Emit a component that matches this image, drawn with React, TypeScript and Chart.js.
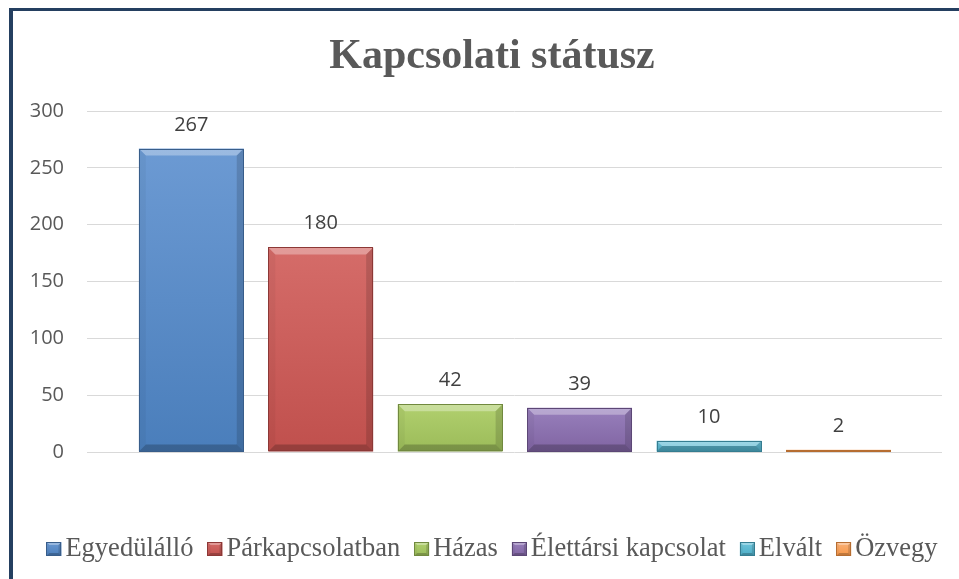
import React, { useEffect, useRef } from "react";
import { Chart, registerables } from "chart.js";

Chart.register(...registerables);

const TITLE = "Kapcsolati státusz";
const categories = ["Egyedülálló", "Párkapcsolatban", "Házas", "Élettársi kapcsolat", "Elvált", "Özvegy"];
const counts = [267, 180, 42, 39, 10, 2];
const yTicks = [0, 50, 100, 150, 200, 250, 300];

const baseColors = ["#4A7EBB", "#C0504D", "#9BBB59", "#8064A2", "#4BACC6", "#F79646"];
const lightColors = ["#6C9AD3", "#D56C69", "#B1D06E", "#9880BC", "#72C6DC", "#F9B27A"];
const edgeColors = ["#385D8A", "#8C3836", "#71893F", "#5C4776", "#357D91", "#B66D31"];

const PAD = { left: 0, right: 17, top: 111, bottom: 127 };
const CENTER_X = 492;
const SANS = "'Open Sans', 'Noto Sans', sans-serif";
const SERIF = "'Liberation Serif', 'Times New Roman', serif";

function bevel(ctx: CanvasRenderingContext2D, l: number, t: number, r: number, b: number, size: number) {
  const h = b - t;
  const w = r - l;
  const s = Math.max(0, Math.min(size, h / 2, w / 2));
  const poly = (pts: number[][], fill: string) => {
    ctx.beginPath();
    ctx.moveTo(pts[0][0], pts[0][1]);
    for (let k = 1; k < pts.length; k++) ctx.lineTo(pts[k][0], pts[k][1]);
    ctx.closePath();
    ctx.fillStyle = fill;
    ctx.fill();
  };
  poly([[l, t], [r, t], [r - s, t + s], [l + s, t + s]], "rgba(255,255,255,0.32)");
  poly([[l, t], [l + s, t + s], [l + s, b - s], [l, b]], "rgba(0,0,0,0.04)");
  poly([[r, t], [r, b], [r - s, b - s], [r - s, t + s]], "rgba(0,0,0,0.14)");
  poly([[l, b], [l + s, b - s], [r - s, b - s], [r, b]], "rgba(0,0,0,0.22)");
}

const barDecor = {
  id: "barDecor",
  afterDatasetsDraw(chart: any) {
    const ctx: CanvasRenderingContext2D = chart.ctx;
    const meta = chart.getDatasetMeta(0);
    ctx.save();
    meta.data.forEach((el: any, i: number) => {
      const { x, y, base, width } = el.getProps(["x", "y", "base", "width"], true);
      const l = x - width / 2;
      const r = x + width / 2;
      bevel(ctx, l, y, r, base, 7);
      ctx.strokeStyle = edgeColors[i];
      ctx.lineWidth = 1;
      ctx.strokeRect(Math.round(l) + 0.5, Math.round(y) + 0.5, Math.round(r - l) - 1, Math.max(0, Math.round(base - y) - 1));
      ctx.fillStyle = "#404040";
      ctx.font = `20px ${SANS}`;
      ctx.textAlign = "center";
      ctx.textBaseline = "alphabetic";
      ctx.fillText(String(counts[i]), x, y - 18);
    });
    ctx.restore();
  },
};

const titleAndLegend = {
  id: "titleAndLegend",
  afterDraw(chart: any) {
    const ctx: CanvasRenderingContext2D = chart.ctx;
    ctx.save();
    // title
    ctx.font = `bold 42px ${SERIF}`;
    ctx.fillStyle = "#595959";
    ctx.textAlign = "center";
    ctx.textBaseline = "alphabetic";
    ctx.fillText(TITLE, CENTER_X, 68);

    // legend
    ctx.font = `26.5px ${SERIF}`;
    const box = 15;
    const gap = 4;
    const spacing = 14;
    const widths = categories.map((c) => ctx.measureText(c).width);
    const total = widths.reduce((a, w) => a + box + gap + w, 0) + spacing * (categories.length - 1);
    let x = CENTER_X - total / 2;
    const boxTop = 542;
    const baseline = 556;
    categories.forEach((c, i) => {
      const g = ctx.createLinearGradient(0, boxTop, 0, boxTop + 14);
      g.addColorStop(0, lightColors[i]);
      g.addColorStop(1, baseColors[i]);
      ctx.fillStyle = g;
      ctx.fillRect(x, boxTop, box, 14);
      bevel(ctx, x, boxTop, x + box, boxTop + 14, 3);
      ctx.strokeStyle = edgeColors[i];
      ctx.lineWidth = 1;
      ctx.strokeRect(Math.round(x) + 0.5, boxTop + 0.5, box - 1, 13);
      ctx.fillStyle = "#595959";
      ctx.textAlign = "left";
      ctx.textBaseline = "alphabetic";
      ctx.fillText(c, x + box + gap, baseline);
      x += box + gap + widths[i] + spacing;
    });
    ctx.restore();
  },
};

export default function App() {
  const canvasRef = useRef<HTMLCanvasElement | null>(null);

  useEffect(() => {
    if (!canvasRef.current) return;
    const chart = new Chart(canvasRef.current, {
      type: "bar",
      data: {
        datasets: [
          {
            label: TITLE,
            data: counts.map((v, i) => ({ x: i, y: v })),
            backgroundColor: (c: any) => {
              const i = c.dataIndex ?? 0;
              const ys = c.chart?.scales?.y;
              if (c.type !== "data" || !ys) return baseColors[i];
              const top = ys.getPixelForValue(counts[i]);
              const bot = ys.getPixelForValue(0);
              if (!isFinite(top) || !isFinite(bot) || bot - top < 1) return baseColors[i];
              const g = c.chart.ctx.createLinearGradient(0, top, 0, bot);
              g.addColorStop(0, lightColors[i]);
              g.addColorStop(1, baseColors[i]);
              return g;
            },
            borderWidth: 0,
            barPercentage: 0.9,
            categoryPercentage: 0.9,
          } as any,
        ],
      },
      options: {
        animation: false,
        responsive: false,
        devicePixelRatio: 1,
        layout: { padding: PAD },
        scales: {
          x: {
            type: "linear",
            min: -0.806,
            max: 5.8,
            offset: false,
            display: false,
            grid: { offset: false },
            afterBuildTicks: (s: any) => {
              s.ticks = categories.map((_, i) => ({ value: i }));
            },
          },
          y: {
            min: 0,
            max: 300,
            afterBuildTicks: (s: any) => {
              s.ticks = yTicks.map((v) => ({ value: v }));
            },
            afterFit: (s: any) => {
              s.width = 87;
            },
            grid: { color: "#D9D9D9", lineWidth: 1, drawTicks: false },
            border: { display: false },
            ticks: {
              padding: 23,
              color: "#595959",
              font: { family: SANS, size: 20 },
            },
          },
        },
        plugins: {
          legend: { display: false },
          tooltip: { enabled: false },
          title: { display: false },
        },
      } as any,
      plugins: [barDecor, titleAndLegend],
    });
    return () => chart.destroy();
  }, []);

  return (
    <div
      style={{
        position: "fixed",
        left: 0,
        top: 0,
        width: 959,
        height: 579,
        overflow: "hidden",
        background: "#ffffff",
      }}
    >
      <div
        style={{
          position: "absolute",
          left: 9,
          top: 8,
          width: 1200,
          height: 900,
          borderLeft: "4px solid #243F60",
          borderTop: "3px solid #243F60",
        }}
      />
      <canvas ref={canvasRef} width={959} height={579} style={{ position: "absolute", left: 0, top: 0 }} />
    </div>
  );
}
